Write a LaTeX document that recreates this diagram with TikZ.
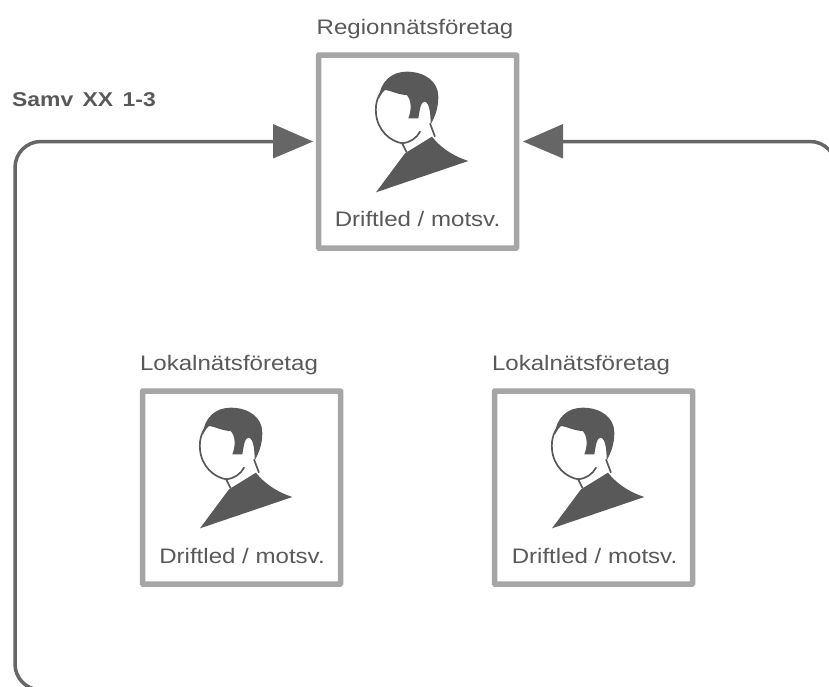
\documentclass[tikz,border=0pt]{standalone}
\usepackage{fontspec}
\setmainfont{Liberation Sans}
\newfontfamily\widesans[FakeStretch=1.146]{Liberation Sans}
\definecolor{boxgrey}{HTML}{A6A6A6}
\definecolor{darkgrey}{HTML}{595959}
\definecolor{linegrey}{HTML}{666666}
\tikzset{
  x=1pt,y=-1pt,
  personbox/.style={draw=boxgrey,line width=5.5pt,fill=white,minimum width=198pt,minimum height=193pt,inner sep=0pt,rounded corners=0.5pt},
  titlelabel/.style={text=darkgrey,inner sep=0pt,font=\widesans\fontsize{21}{25}\selectfont},
  boxlabel/.style={text=darkgrey,inner sep=0pt,font=\widesans\fontsize{21}{25}\selectfont},
  feed/.style={draw=linegrey,line width=3.5pt,rounded corners=26pt},
  headtip/.style={fill=linegrey,draw=none},
  person/.pic={
    \begin{scope}[xshift=-5.75pt,yshift=7.25pt,x=0.3333pt,y=-0.3333pt]
      % body
      \fill[darkgrey] (198,442) -- (285,325) -- (366,275) .. controls (385,300) and (420,330) .. (475,348) -- cycle;
      % hair
      \fill[darkgrey] (207,160) .. controls (210,110) and (245,80) .. (290,80)
        .. controls (345,80) and (385,110) .. (385,155)
        .. controls (385,190) and (375,215) .. (362,238)
        .. controls (362,215) and (360,170) .. (343,170)
        .. controls (332,172) and (330,190) .. (325,220)
        -- (295,220) .. controls (305,195) and (305,165) .. (290,150)
        .. controls (265,150) and (240,135) .. (222,135) -- cycle;
      % face and collar outline
      \draw[darkgrey,line width=1.7pt,line cap=round] (222,135) .. controls (205,145) and (195,175) .. (198,205)
        .. controls (202,255) and (240,290) .. (278,295)
        .. controls (300,292) and (320,280) .. (330,260);
      \draw[darkgrey,line width=1.7pt] (275,292) -- (290,322);
      \draw[darkgrey,line width=1.7pt] (360,235) -- (375,275);
    \end{scope}
  }
}
\begin{document}
\begin{tikzpicture}
\useasboundingbox (0,0) rectangle (829,686);
\fill[white] (0,0) rectangle (829,686);
\coordinate (bl) at (15,690);
\coordinate (br) at (836,690);
\coordinate (tl) at (15,141.5);
\coordinate (tr) at (836,141.5);
% boxes
\node[personbox] (top) at (417.5,151.5) {};
\node[personbox] (left) at (241.5,487.5) {};
\node[personbox] (right) at (593.5,487.5) {};
\pic at (top.north west) {person};
\pic at (left.north west) {person};
\pic at (right.north west) {person};
\node[titlelabel] (toptitle) at (415,29) {Regionnätsföretag};
\node[titlelabel] (lefttitle) at (229,365) {Lokalnätsföretag};
\node[titlelabel] (righttitle) at (581,365) {Lokalnätsföretag};
\node[boxlabel] (toplabel) at (417.5,219) {Driftled / motsv.};
\node[boxlabel] (leftlabel) at (242,556) {Driftled / motsv.};
\node[boxlabel] (rightlabel) at (594.5,556) {Driftled / motsv.};
\node[text=darkgrey,inner sep=0pt,font=\widesans\bfseries\fontsize{20}{24}\selectfont] (samv) at (84,100) {Samv\hspace{3pt} XX\hspace{3pt} 1-3};
% connectors
\coordinate (lhead) at (276,141.5);
\coordinate (rhead) at (562,141.5);
\draw[feed] (lhead) -- (tl) -- (bl) -- (br);
\draw[feed] (rhead) -- (tr) -- (br);
\fill[headtip] (313,141.5) -- (273,124) -- (273,158.5) -- cycle;
\fill[headtip] (523,141.5) -- (563,124) -- (563,158.5) -- cycle;
\end{tikzpicture}
\end{document}
